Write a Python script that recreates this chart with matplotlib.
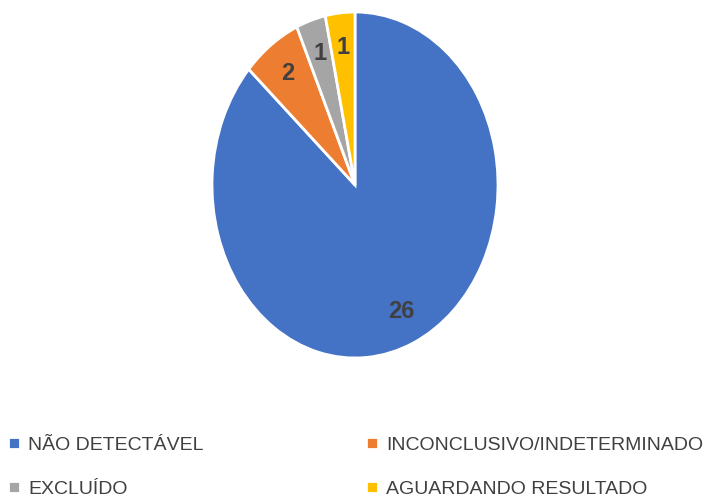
import matplotlib
matplotlib.use('Agg')
import matplotlib.pyplot as plt

# Dados
categorias = ['NÃO DETECTÁVEL', 'INCONCLUSIVO/INDETERMINADO', 'EXCLUÍDO', 'AGUARDANDO RESULTADO']
valores = [26, 2, 1, 1]
cores = ['#4472C4', '#ED7D31', '#A5A5A5', '#FFC000']

fonte = 'Liberation Sans'

fig = plt.figure(figsize=(7.10, 5.01), dpi=100)
ax = fig.add_axes([212 / 710, 143 / 501, 286 / 710, 346 / 501])

wedges, textos = ax.pie(valores, colors=cores, startangle=90, counterclock=False,
                        labels=[str(v) for v in valores], labeldistance=0.8,
                        wedgeprops=dict(edgecolor='white', linewidth=2),
                        textprops=dict(color='#404040', fontsize=17, fontweight='bold', family=fonte))
for t in textos:
    t.set_horizontalalignment('center')
    t.set_verticalalignment('center')
ax.set_aspect('auto')
ax.set_xlim(-1, 1)
ax.set_ylim(-1, 1)

# legenda em linhas: ordem das colunas do matplotlib
ordem = [0, 2, 1, 3]
tam = 14
esp = 8.0


def legenda(esp):
    return fig.legend([wedges[i] for i in ordem], [categorias[i] for i in ordem], ncol=2,
                      loc='lower left', bbox_to_anchor=(8 / 710, 3 / 501), borderpad=0,
                      borderaxespad=0, frameon=False, prop=dict(family=fonte, size=tam),
                      labelcolor='#404040', handlelength=0.6, handleheight=0.6,
                      handletextpad=0.45, columnspacing=esp, labelspacing=1.4)


for _ in range(3):
    leg = legenda(esp)
    fig.canvas.draw()
    x2 = leg.legend_handles[2].get_window_extent().x0
    leg.remove()
    esp += (366 - x2) / (tam * 100 / 72)
legenda(esp)

fig.savefig('out.png', dpi=100)
